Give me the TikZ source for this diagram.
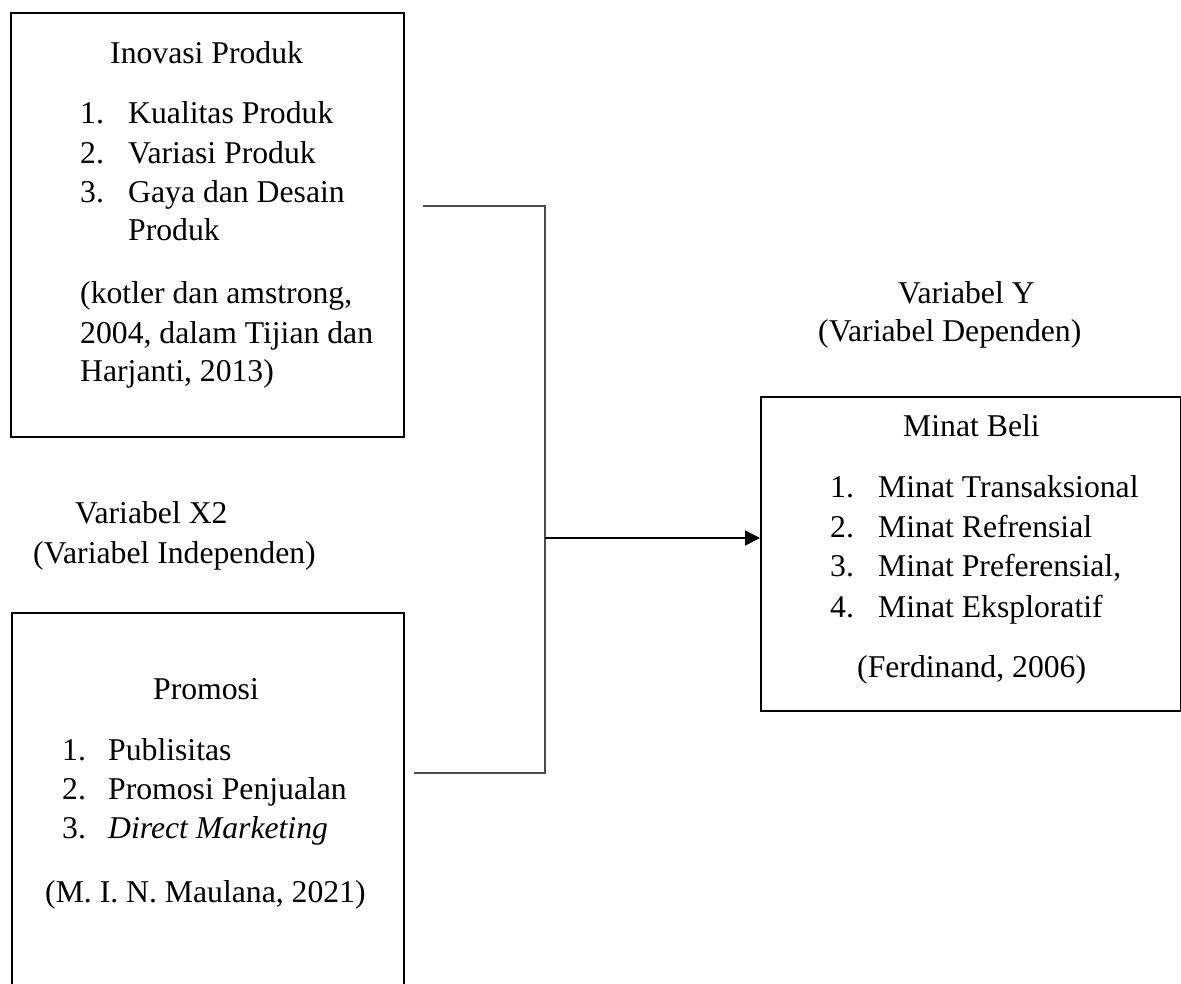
\documentclass[tikz,border=0pt]{standalone}
\usepackage{fontspec}
\setmainfont{Liberation Serif}
\usetikzlibrary{arrows.meta}
\begin{document}
\begin{tikzpicture}[x=1pt,y=-1pt,
  box/.style={draw=black,line width=2pt,inner sep=0pt,anchor=north west},
  txt/.style={anchor=base west,inner sep=0pt,font=\fontsize{31.7}{39}\selectfont},
  conn/.style={draw=black!70,line width=1.3pt},
  arr/.style={draw=black,line width=1.8pt,-{Triangle[length=15pt,width=15pt]}}]
\path[use as bounding box,clip] (0,0) rectangle (1181,983);
\fill[white] (0,0) rectangle (1181,983);
% boxes
\node[box,minimum width=393pt,minimum height=424pt] (inov) at (10,12) {};
\node[box,minimum width=392pt,minimum height=420pt] (prom) at (11,612) {};
\node[box,minimum width=420pt,minimum height=314pt] (minat) at (760,396) {};
% top box text
\node[txt] (t1) at (110,63) {Inovasi Produk};
\node[txt] (t1n1) at (80,123) {1.};
\node[txt] (t1i1) at (128,123) {Kualitas Produk};
\node[txt] (t1n2) at (80,163) {2.};
\node[txt] (t1i2) at (128,163) {Variasi Produk};
\node[txt] (t1n3) at (80,202) {3.};
\node[txt] (t1i3) at (128,202) {Gaya dan Desain};
\node[txt] (t1i3b) at (128,240) {Produk};
\node[txt] (t1c1) at (80,303) {(kotler dan amstrong,};
\node[txt] (t1c2) at (80,343) {2004, dalam Tijian dan};
\node[txt] (t1c3) at (80,381) {Harjanti, 2013)};
% labels
\node[txt] (lx1) at (75,523) {Variabel X2};
\node[txt] (lx2) at (33,563) {(Variabel Independen)};
\node[txt] (ly1) at (898,303) {Variabel Y};
\node[txt] (ly2) at (818,341) {(Variabel Dependen)};
% bottom box text
\node[txt] (t2) at (153,699) {Promosi};
\node[txt] (t2n1) at (62,760) {1.};
\node[txt] (t2i1) at (108,760) {Publisitas};
\node[txt] (t2n2) at (62,799) {2.};
\node[txt] (t2i2) at (108,799) {Promosi Penjualan};
\node[txt] (t2n3) at (62,838) {3.};
\node[txt] (t2i3) at (108,838) {\itshape Direct Marketing};
\node[txt] (t2c) at (45,902) {(M. I. N. Maulana, 2021)};
% right box text
\node[txt] (t3) at (903,436) {Minat Beli};
\node[txt] (t3n1) at (830,497) {1.};
\node[txt] (t3i1) at (878,497) {Minat Transaksional};
\node[txt] (t3n2) at (830,537) {2.};
\node[txt] (t3i2) at (878,537) {Minat Refrensial};
\node[txt] (t3n3) at (830,576) {3.};
\node[txt] (t3i3) at (878,576) {Minat Preferensial,};
\node[txt] (t3n4) at (830,617) {4.};
\node[txt] (t3i4) at (878,617) {Minat Eksploratif};
\node[txt] (t3c) at (857,677) {(Ferdinand, 2006)};
% connectors
\coordinate (c1) at (423,206);
\coordinate (j1) at (545,206);
\coordinate (c2) at (414,773);
\coordinate (j2) at (545,773);
\coordinate (jm) at (545,538);
\draw[conn] (c1) -- (j1) -- (j2) -- (c2);
\draw[arr] (jm) -- (minat.west |- jm);
\end{tikzpicture}
\end{document}
